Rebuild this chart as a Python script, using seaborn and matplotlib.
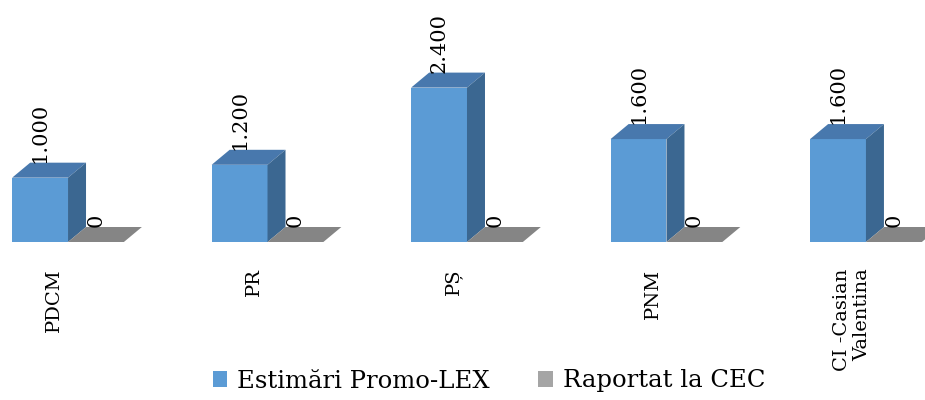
import numpy as np
import pandas as pd
import seaborn as sns
import matplotlib.pyplot as plt
from matplotlib.patches import Patch, Polygon
from matplotlib.transforms import ScaledTranslation

# data
parties = ['PDCM', 'PR', 'PȘ', 'PNM', 'CI -Casian\nValentina']
estimari = [1000, 1200, 2400, 1600, 1600]
raportat = [0, 0, 0, 0, 0]
series_names = ['Estimări Promo-LEX', 'Raportat la CEC']

front_colors = ['#5b9bd5', '#a5a5a5']
top_colors = ['#4878ad', '#858585']
side_colors = ['#3b6791', '#747474']

df = pd.DataFrame({
    'party': parties * 2,
    'value': estimari + raportat,
    'series': [series_names[0]] * len(parties) + [series_names[1]] * len(parties),
})

sns.set_theme(style='white')
plt.rcParams['font.family'] = ['DejaVu Serif', 'DejaVu Sans']
plt.rcParams['text.color'] = 'black'

fig = plt.figure(figsize=(9.25, 4), dpi=100)
ax = fig.add_axes([0, 0.395, 1, 0.4825])

sns.barplot(data=df, x='party', y='value', hue='series', palette=front_colors,
            width=0.56, linewidth=0, saturation=1, legend=False, ax=ax)

ax.set_xlim(-0.341, 4.296)
ax.set_ylim(0, 3000)
sns.despine(ax=ax, left=True, bottom=True)
ax.set_yticks([])
ax.set_xlabel('')
ax.set_ylabel('')

# 3D effect: depth offset in pixels
DX, DY = 18, 15
to_disp = ax.transData.transform
to_data = ax.transData.inverted().transform


def shifted(pts):
    d = to_disp(np.array(pts, dtype=float))
    d[:, 0] += DX
    d[:, 1] += DY
    return to_data(d)


for k, cont in enumerate(ax.containers):
    for bar in cont:
        x0 = bar.get_x()
        w = bar.get_width()
        h = bar.get_height()
        x1 = x0 + w
        # top face
        back = shifted([[x1, h], [x0, h]])
        top = np.vstack([[[x0, h], [x1, h]], back])
        ax.add_patch(Polygon(top, closed=True, facecolor=top_colors[k],
                             edgecolor='none', clip_on=False))
        # side face
        if h > 0:
            back = shifted([[x1, h], [x1, 0]])
            side = np.vstack([[[x1, 0], [x1, h]], back])
            ax.add_patch(Polygon(side, closed=True, facecolor=side_colors[k],
                                 edgecolor='none', clip_on=False))
        # value label above the top face
        label = f'{h:,.0f}'.replace(',', '.')
        lx, ly = to_disp([[x0 + w / 2, h]])[0]
        lx, ly = to_data([[lx, ly + DY]])[0]
        ax.text(lx, ly, label, rotation=90, ha='center', va='bottom',
                fontsize=15, color='black', clip_on=False)

ax.tick_params(axis='x', length=0, pad=19, labelsize=14)
ax.set_xticks(range(len(parties)))
ax.set_xticklabels(parties, rotation=90, ha='center', va='top', color='black')
for t in ax.get_xticklabels():
    t.set_transform(t.get_transform() + ScaledTranslation(-14 / 100, 0, fig.dpi_scale_trans))
    t.set_multialignment('right')

handles = [Patch(facecolor=front_colors[i], edgecolor='none', label=series_names[i])
           for i in range(2)]
fig.legend(handles=handles, loc='center', bbox_to_anchor=(489 / 925, 1 - 381 / 400),
           ncol=2, frameon=False, fontsize=17.5, handlelength=0.6, handleheight=0.6,
           handletextpad=0.4, columnspacing=2.0, labelcolor='black')

fig.savefig('out.png', dpi=100)
